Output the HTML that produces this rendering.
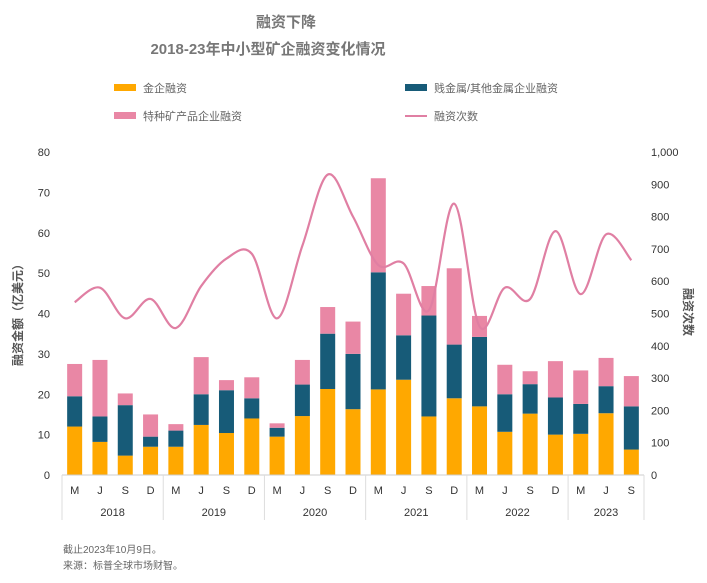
<!DOCTYPE html>
<html><head><meta charset="utf-8"><style>
body{margin:0;background:#fff;width:707px;height:578px;overflow:hidden;font-family:"Liberation Sans","Noto Sans CJK SC",sans-serif}
svg text{font-family:"Liberation Sans","Noto Sans CJK SC",sans-serif}
</style></head><body>
<svg id="c" width="707" height="578">
<text x="286" y="27" font-size="15" font-weight="bold" fill="#777" text-anchor="middle" font-family="Liberation Serif,Noto Serif CJK SC,serif">融资下降</text>
<text x="268" y="54" font-size="15" font-weight="bold" fill="#777" text-anchor="middle" font-family="Liberation Serif,Noto Serif CJK SC,serif">2018-23年中小型矿企融资变化情况</text>
<g font-size="11" fill="#666">
<g><rect x="114" y="84" width="22" height="7" fill="#FFA800"/><text x="143" y="92">金企融资</text></g>
<g><rect x="405" y="84" width="22" height="7" fill="#175B78"/><text x="434" y="92">贱金属/其他金属企业融资</text></g>
<g><rect x="114" y="112" width="22" height="7" fill="#E987A5"/><text x="143" y="120">特种矿产品企业融资</text></g>
<g><line x1="405" y1="116" x2="427" y2="116" stroke="#E07FA3" stroke-width="2"/><text x="434" y="120">融资次数</text></g>
</g>
<text transform="translate(22,312) rotate(-90)" font-size="12" font-weight="bold" fill="#555" text-anchor="middle">融资金额（亿美元）</text>
<text transform="translate(684,312) rotate(90)" font-size="12" font-weight="bold" fill="#555" text-anchor="middle">融资次数</text>
<g id="plot"></g>
<text x="63" y="553" font-size="10" fill="#666">截止2023年10月9日。</text>
<text x="63" y="569" font-size="10" fill="#666">来源：标普全球市场财智。</text>
</svg>
<script>
const quarters=["M","J","S","D","M","J","S","D","M","J","S","D","M","J","S","D","M","J","S","D","M","J","S"];
const years=["2018","2019","2020","2021","2022","2023"];
const gold=[12,8.2,4.8,7,7,12.4,10.4,14,9.5,14.6,21.3,16.3,21.2,23.6,14.5,19,17,10.7,15.2,10,10.2,15.3,6.3];
const baseMetals=[7.5,6.3,12.5,2.5,4,7.6,10.6,5,2.2,7.8,13.7,13.7,29,11,25,13.3,17.2,9.3,7.3,9.2,7.4,6.7,10.7];
const specialty=[8,14,2.9,5.5,1.6,9.2,2.5,5.2,1.1,6.1,6.6,8,23.3,10.3,7.3,18.9,5.2,7.3,3.2,9,8.3,7,7.5];
const counts=[535,580,485,545,455,585,670,685,485,710,930,800,650,655,510,840,460,580,545,755,560,745,665];
const leftTicks=[0,10,20,30,40,50,60,70,80];
const rightTicks=["0","100","200","300","400","500","600","700","800","900","1,000"];
const NS="http://www.w3.org/2000/svg";
const g=document.getElementById('plot');
const X0=62,X1=644,Y0=475,Y1=152;
const step=(X1-X0)/quarters.length;
const xc=i=>X0+step*(i+0.5);
const yL=v=>Y0-(v/80)*(Y0-Y1);
const yR=v=>Y0-(v/1000)*(Y0-Y1);
function mk(t,a){const e=document.createElementNS(NS,t);for(const k in a)e.setAttribute(k,a[k]);g.appendChild(e);return e;}
leftTicks.forEach(v=>{const t=mk('text',{x:50,y:yL(v)+4,'font-size':11,fill:'#333','text-anchor':'end'});t.textContent=v;

});
rightTicks.forEach((v,i)=>{const t=mk('text',{x:651,y:yR(i*100)+4,'font-size':11,fill:'#333'});t.textContent=v;

});
const bw=15;
quarters.forEach((q,i)=>{
 let b=0;
 [[gold,'#FFA800','bar-gold'],[baseMetals,'#175B78','bar-base-metals'],[specialty,'#E987A5','bar-specialty']].forEach(([arr,c,n])=>{
  const r=mk('rect',{x:xc(i)-bw/2,y:yL(b+arr[i]),width:bw,height:yL(b)-yL(b+arr[i]),fill:c});
  
  
  b+=arr[i];
 });
 const t=mk('text',{x:xc(i),y:494,'font-size':11,fill:'#333','text-anchor':'middle'});t.textContent=q;
 
 
});
const ax=mk('line',{x1:X0,y1:Y0,x2:X1,y2:Y0,stroke:'#ccc'});


let start=0;
years.forEach((y,k)=>{
 const n=k<5?4:3;
 const xa=X0+start*step, xb=X0+(start+n)*step;
 const s=mk('line',{x1:xa,y1:Y0,x2:xa,y2:520,stroke:'#ddd'});
 
 
 const t=mk('text',{x:(xa+xb)/2,y:516,'font-size':11,fill:'#333','text-anchor':'middle'});t.textContent=y;
 
 
 start+=n;
});
const se=mk('line',{x1:X1,y1:Y0,x2:X1,y2:520,stroke:'#ddd'});


const P=counts.map((v,i)=>[xc(i),yR(v)]);
let d='M'+P[0][0]+','+P[0][1];
for(let i=0;i<P.length-1;i++){
 const p0=P[Math.max(0,i-1)],p1=P[i],p2=P[i+1],p3=P[Math.min(P.length-1,i+2)];
 const c1=[p1[0]+(p2[0]-p0[0])/6,p1[1]+(p2[1]-p0[1])/6],c2=[p2[0]-(p3[0]-p1[0])/6,p2[1]-(p3[1]-p1[1])/6];
 d+=` C${c1[0]},${c1[1]} ${c2[0]},${c2[1]} ${p2[0]},${p2[1]}`;
}
const ln=mk('path',{d:d,fill:'none',stroke:'#E07FA3','stroke-width':2.2});


</script>
</body></html>
